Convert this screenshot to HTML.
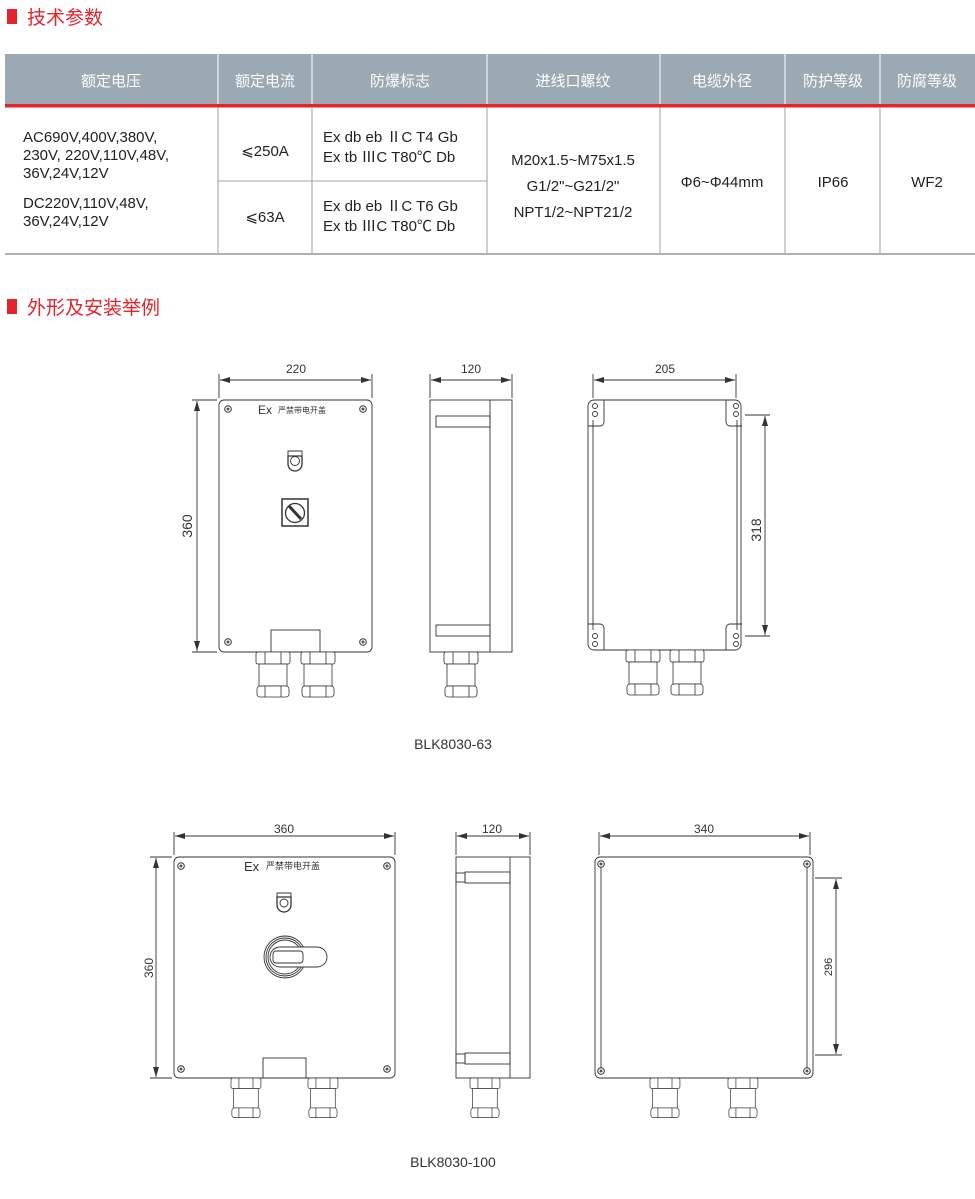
<!DOCTYPE html>
<html><head><meta charset="utf-8"><style>
body{margin:0;background:#fff;}
svg{display:block;font-family:"Liberation Sans","Noto Sans CJK SC",sans-serif;}
</style></head><body>
<svg width="975" height="1199" viewBox="0 0 975 1199" xmlns="http://www.w3.org/2000/svg">
<defs>
<marker id="a" viewBox="0 0 10 6" refX="10" refY="3" markerWidth="10" markerHeight="6" orient="auto-start-reverse" markerUnits="userSpaceOnUse"><path d="M0,0L10,3L0,6z" fill="#333"/></marker>
<g id="gl" fill="#fff" stroke="#333" stroke-width="0.8">
<rect x="0" y="0" width="34" height="12" rx="2"/><line x1="9" y1="0" x2="9" y2="12"/><line x1="25" y1="0" x2="25" y2="12"/>
<rect x="3" y="12" width="28" height="22"/>
<rect x="1" y="34" width="32" height="11" rx="3"/><line x1="9" y1="34" x2="9" y2="45"/><line x1="25" y1="34" x2="25" y2="45"/>
</g>
<g id="scr"><circle r="3.3" fill="#fff" stroke="#333" stroke-width="1"/><circle r="1.5" fill="#555"/></g>
</defs>

<!-- headings -->
<rect x="7" y="9" width="10" height="15" fill="#e5232b"/>
<text x="27" y="24" font-size="19" fill="#e5232b">技术参数</text>
<rect x="7" y="299" width="10" height="15" fill="#e5232b"/>
<text x="27" y="314" font-size="19" fill="#e5232b">外形及安装举例</text>

<!-- table -->
<rect x="5" y="54" width="970" height="51" fill="#9aa9b3"/>
<rect x="5" y="104" width="970" height="3.5" fill="#e5232b"/>
<g stroke="#fff" stroke-width="1"><line x1="218" y1="54" x2="218" y2="104"/><line x1="312" y1="54" x2="312" y2="104"/><line x1="487" y1="54" x2="487" y2="104"/><line x1="660" y1="54" x2="660" y2="104"/><line x1="785" y1="54" x2="785" y2="104"/><line x1="880" y1="54" x2="880" y2="104"/></g>
<g font-size="15" fill="#fff" text-anchor="middle">
<text x="111" y="86">额定电压</text><text x="265" y="86">额定电流</text><text x="400" y="86">防爆标志</text><text x="573" y="86">进线口螺纹</text><text x="722" y="86">电缆外径</text><text x="833" y="86">防护等级</text><text x="927" y="86">防腐等级</text>
</g>
<g stroke="#888" stroke-width="0.8"><line x1="218" y1="107" x2="218" y2="254"/><line x1="312" y1="107" x2="312" y2="254"/><line x1="487" y1="107" x2="487" y2="254"/><line x1="660" y1="107" x2="660" y2="254"/><line x1="785" y1="107" x2="785" y2="254"/><line x1="880" y1="107" x2="880" y2="254"/><line x1="218" y1="181" x2="487" y2="181"/></g>
<rect x="5" y="253" width="970" height="2" fill="#aab3ba"/>
<g font-size="15" fill="#222">
<text x="23" y="142">AC690V,400V,380V,</text><text x="23" y="160">230V, 220V,110V,48V,</text><text x="23" y="178">36V,24V,12V</text>
<text x="23" y="208">DC220V,110V,48V,</text><text x="23" y="226">36V,24V,12V</text>
<text x="265" y="156" text-anchor="middle">⩽250A</text><text x="265" y="222" text-anchor="middle">⩽63A</text>
<text x="323" y="142">Ex db eb  ⅡC T4 Gb</text><text x="323" y="162">Ex tb  ⅢC T80℃ Db</text>
<text x="323" y="211">Ex db eb  ⅡC T6 Gb</text><text x="323" y="231">Ex tb  ⅢC T80℃ Db</text>
<g text-anchor="middle"><text x="573" y="165">M20x1.5~M75x1.5</text><text x="573" y="191">G1/2"~G21/2"</text><text x="573" y="217">NPT1/2~NPT21/2</text>
<text x="722" y="187">Φ6~Φ44mm</text><text x="833" y="187">IP66</text><text x="927" y="187">WF2</text></g>
</g>

<!-- ===== Drawing 1 ===== -->
<g stroke="#333" stroke-width="0.9" fill="none">
<!-- front -->
<rect x="219" y="400" width="153" height="252" rx="5"/>
<line x1="219" y1="374" x2="219" y2="398"/><line x1="372" y1="374" x2="372" y2="398"/>
<line x1="220" y1="380" x2="371" y2="380" marker-start="url(#a)" marker-end="url(#a)"/>
<line x1="192" y1="400" x2="217" y2="400"/><line x1="192" y1="652" x2="217" y2="652"/>
<line x1="197" y1="401" x2="197" y2="651" marker-start="url(#a)" marker-end="url(#a)"/>
<rect x="271" y="630" width="49" height="22"/>
<path d="M288,451h14v5h-14z"/><path d="M288,456h14v8a7,7 0 0 1 -14,0z" stroke-width="1.3"/><circle cx="295" cy="461" r="4.5"/>
<rect x="282" y="499" width="26" height="27" stroke-width="1.5"/><circle cx="295" cy="513" r="9.5" stroke-width="1.3"/><line x1="289" y1="506" x2="301" y2="519" stroke-width="3"/>
<!-- side -->
<rect x="430" y="400" width="82" height="252"/><line x1="490" y1="400" x2="490" y2="652"/>
<rect x="436" y="416" width="54" height="11"/><rect x="436" y="625" width="54" height="11"/>
<line x1="430" y1="374" x2="430" y2="398"/><line x1="512" y1="374" x2="512" y2="398"/>
<line x1="431" y1="380" x2="511" y2="380" marker-start="url(#a)" marker-end="url(#a)"/>
<!-- back -->
<path d="M594,400h141a6,6 0 0 1 6,6v238a6,6 0 0 1 -6,6h-141a6,6 0 0 1 -6,-6v-238a6,6 0 0 1 6,-6z"/>
<line x1="593" y1="420" x2="593" y2="630"/><line x1="737" y1="420" x2="737" y2="630"/>
<path d="M588,426h12a4,4 0 0 0 4,-4v-22"/><path d="M742,426h-12a4,4 0 0 1 -4,-4v-22"/>
<path d="M588,624h12a4,4 0 0 1 4,4v22"/><path d="M742,624h-12a4,4 0 0 0 -4,4v22"/>
<circle cx="595" cy="406" r="2.5"/><circle cx="595" cy="414" r="2.5"/><circle cx="736" cy="406" r="2.5"/><circle cx="736" cy="414" r="2.5"/>
<circle cx="595" cy="636" r="2.5"/><circle cx="595" cy="644" r="2.5"/><circle cx="736" cy="636" r="2.5"/><circle cx="736" cy="644" r="2.5"/>
<line x1="593" y1="374" x2="593" y2="398"/><line x1="736" y1="374" x2="736" y2="398"/>
<line x1="594" y1="380" x2="735" y2="380" marker-start="url(#a)" marker-end="url(#a)"/>
<line x1="745" y1="415" x2="770" y2="415"/><line x1="745" y1="636" x2="770" y2="636"/>
<line x1="765" y1="416" x2="765" y2="635" marker-start="url(#a)" marker-end="url(#a)"/>
</g>
<use href="#scr" x="228" y="409"/><use href="#scr" x="363" y="409"/><use href="#scr" x="228" y="642"/><use href="#scr" x="363" y="642"/>
<use href="#gl" x="256" y="652"/><use href="#gl" x="301" y="652"/><use href="#gl" x="444" y="652"/><use href="#gl" x="626" y="650"/><use href="#gl" x="670" y="650"/>
<g fill="#333">
<text x="258" y="414" font-size="12">Ex</text><text x="278" y="413" font-size="8">严禁带电开盖</text>
<text x="296" y="373" font-size="12" text-anchor="middle">220</text>
<text x="471" y="373" font-size="12" text-anchor="middle">120</text>
<text x="665" y="373" font-size="12" text-anchor="middle">205</text>
<text transform="translate(192,526) rotate(-90)" font-size="14" text-anchor="middle">360</text>
<text transform="translate(761,530) rotate(-90)" font-size="14" text-anchor="middle">318</text>
<text x="453" y="749" font-size="14" text-anchor="middle">BLK8030-63</text>
</g>

<!-- ===== Drawing 2 ===== -->
<g stroke="#333" stroke-width="0.9" fill="none">
<rect x="174" y="857" width="221" height="221" rx="5"/>
<line x1="174" y1="832" x2="174" y2="855"/><line x1="395" y1="832" x2="395" y2="855"/>
<line x1="175" y1="836" x2="394" y2="836" marker-start="url(#a)" marker-end="url(#a)"/>
<line x1="150" y1="857" x2="172" y2="857"/><line x1="150" y1="1078" x2="172" y2="1078"/>
<line x1="156" y1="858" x2="156" y2="1077" marker-start="url(#a)" marker-end="url(#a)"/>
<rect x="263" y="1058" width="43" height="20"/>
<path d="M277,893h14v4h-14z"/><path d="M277,897h14v8a7,7 0 0 1 -14,0z" stroke-width="1.3"/><circle cx="284" cy="903" r="4"/>
<circle cx="285" cy="957" r="21"/><circle cx="285" cy="957" r="19"/><circle cx="285" cy="957" r="17"/>
<path d="M280,947h37a10,10 0 0 1 0,20h-37a10,10 0 0 1 0,-20z" fill="#fff"/>
<rect x="273" y="951" width="30" height="12" rx="3"/>
<rect x="456" y="857" width="74" height="221"/><line x1="510" y1="857" x2="510" y2="1078"/>
<rect x="465" y="872" width="45" height="11"/><rect x="456" y="873" width="9" height="9"/>
<rect x="465" y="1053" width="45" height="11"/><rect x="456" y="1054" width="9" height="9"/>
<line x1="456" y1="832" x2="456" y2="855"/><line x1="530" y1="832" x2="530" y2="855"/>
<line x1="457" y1="836" x2="529" y2="836" marker-start="url(#a)" marker-end="url(#a)"/>
<rect x="595" y="857" width="218" height="221" rx="5"/>
<line x1="601" y1="866" x2="601" y2="1068"/><line x1="807" y1="866" x2="807" y2="1068"/>
<line x1="599" y1="832" x2="599" y2="855"/><line x1="810" y1="832" x2="810" y2="855"/>
<line x1="600" y1="836" x2="809" y2="836" marker-start="url(#a)" marker-end="url(#a)"/>
<line x1="815" y1="878" x2="842" y2="878"/><line x1="815" y1="1055" x2="842" y2="1055"/>
<line x1="836" y1="879" x2="836" y2="1054" marker-start="url(#a)" marker-end="url(#a)"/>
</g>
<use href="#scr" x="181" y="866"/><use href="#scr" x="387" y="866"/><use href="#scr" x="181" y="1069"/><use href="#scr" x="387" y="1069"/>
<use href="#scr" x="601" y="864"/><use href="#scr" x="807" y="864"/><use href="#scr" x="601" y="1071"/><use href="#scr" x="807" y="1071"/>
<g transform="translate(231,1078) scale(0.88)"><use href="#gl"/></g>
<g transform="translate(308,1078) scale(0.88)"><use href="#gl"/></g>
<g transform="translate(470,1078) scale(0.88)"><use href="#gl"/></g>
<g transform="translate(650,1078) scale(0.88)"><use href="#gl"/></g>
<g transform="translate(728,1078) scale(0.88)"><use href="#gl"/></g>
<g fill="#333">
<text x="244" y="871" font-size="13">Ex</text><text x="266" y="869" font-size="9">严禁带电开盖</text>
<text x="284" y="833" font-size="12" text-anchor="middle">360</text>
<text x="492" y="833" font-size="12" text-anchor="middle">120</text>
<text x="704" y="833" font-size="12" text-anchor="middle">340</text>
<text transform="translate(153,968) rotate(-90)" font-size="12" text-anchor="middle">360</text>
<text transform="translate(832,967) rotate(-90)" font-size="11" text-anchor="middle">296</text>
<text x="453" y="1167" font-size="14" text-anchor="middle">BLK8030-100</text>
</g>
</svg>
</body></html>
